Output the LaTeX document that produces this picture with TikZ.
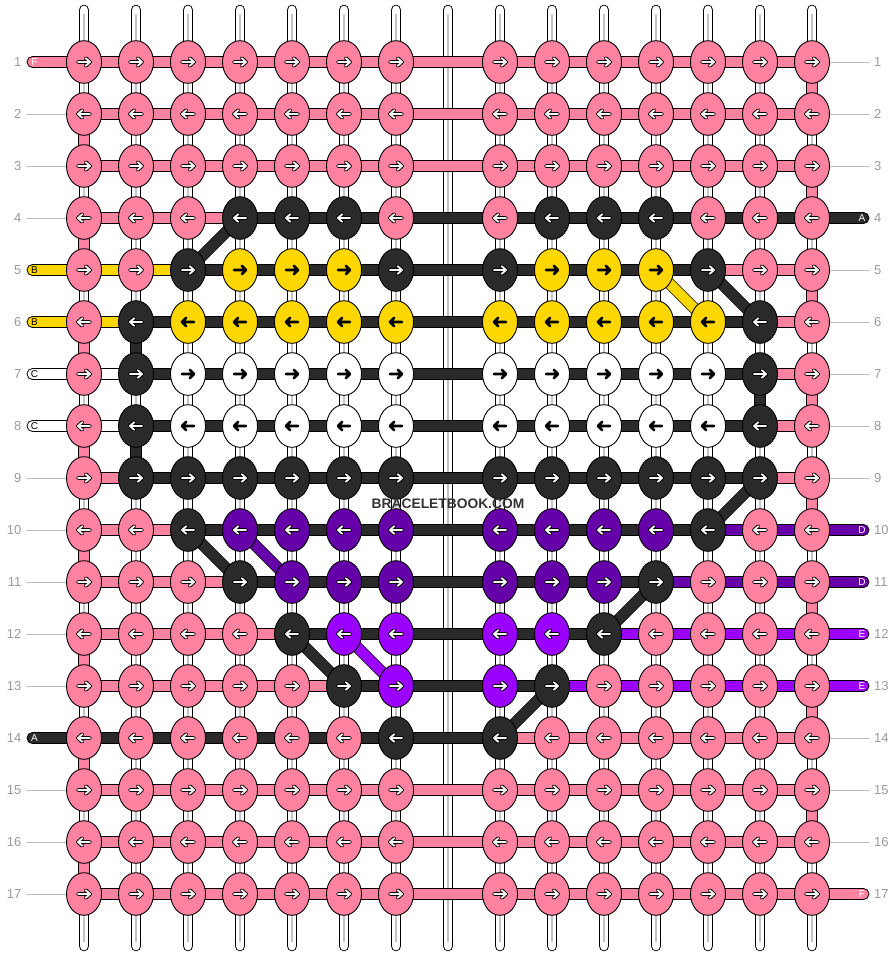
\documentclass[tikz,border=0pt]{standalone}
\usepackage{fontspec}
\setmainfont{Liberation Sans}
\usetikzlibrary{shapes.geometric}
\definecolor{cP}{HTML}{FF82A1}
\definecolor{cK}{HTML}{2A2A2A}
\definecolor{cY}{HTML}{FFD700}
\definecolor{cW}{HTML}{FFFFFF}
\definecolor{cU}{HTML}{6600A8}
\definecolor{cV}{HTML}{9B00FF}
\definecolor{numgrey}{HTML}{9A9A9A}
\definecolor{linegrey}{HTML}{BDBDBD}
\definecolor{strgrey}{HTML}{C4C4C4}
\definecolor{wmgrey}{HTML}{333333}
\pgfdeclarelayer{strings}
\pgfdeclarelayer{bands}
\pgfsetlayers{strings,bands,main}
\def\atP{1}\def\atK{1}\def\atY{0}\def\atW{0}\def\atU{1}\def\atV{1}
\tikzset{
  knot/.style={ellipse, draw=black, line width=0.9, minimum width=35, minimum height=42.6, inner sep=0},
  band/.style={draw=black, line width=0.8},
  arrout/.style={line width=3.8, black, line cap=round, line join=round},
  arrin/.style={line width=1.8, white, line cap=round, line join=round},
  arrdark/.style={line width=2.8, black, line cap=round, line join=round},
  rownum/.style={text=numgrey, font=\fontsize{13}{13}\selectfont, inner sep=0},
  stubtext/.style={font=\fontsize{10}{10}\selectfont, inner sep=0},
  guide/.style={draw=linegrey, line width=0.9},
}
\newcommand\karrow[2]{%
  \ifnum#2=1
    \draw[arrout] ([xshift=\axn]#1.center) -- ([xshift=\ax]#1.center)
      ([xshift=\hx,yshift=3.8]#1.center) -- ([xshift=\ax]#1.center) -- ([xshift=\hx,yshift=-3.8]#1.center);
    \draw[arrin] ([xshift=\axn]#1.center) -- ([xshift=\ax]#1.center)
      ([xshift=\hx,yshift=3.8]#1.center) -- ([xshift=\ax]#1.center) -- ([xshift=\hx,yshift=-3.8]#1.center);
  \else
    \draw[arrdark] ([xshift=\axn]#1.center) -- ([xshift=\ax]#1.center)
      ([xshift=\hx,yshift=4.2]#1.center) -- ([xshift=\ax]#1.center) -- ([xshift=\hx,yshift=-4.2]#1.center);
  \fi}
\newcommand\krow[3]{%
  \pgfmathtruncatemacro\kdir{ifthenelse(mod(#1,2)==1,1,-1)}%
  \pgfmathsetmacro\ax{6*\kdir}%
  \pgfmathsetmacro\axn{-6*\kdir}%
  \pgfmathsetmacro\hx{1.8*\kdir}%
  \foreach \kc [count=\ki] in {#2} {
    \pgfmathsetmacro\kx{84+52*(\ki-1)+52*(\ki>7)}
    \node[knot, fill=c\kc] (k#1-\ki) at (\kx,{62+52*(#1-1)}) {};
    \karrow{k#1-\ki}{\csname at\kc\endcsname}
  }
  \begin{pgfonlayer}{bands}
  \foreach \sc [count=\si] in {#3} {
    \pgfmathtruncatemacro\sj{\si+1}
    \filldraw[band, fill=c\sc] ([yshift=-5.5]k#1-\si.center) rectangle ([yshift=5.5]k#1-\sj.center);
  }
  \end{pgfonlayer}
}
\newcommand\lstub[4]{%
  \coordinate (L#1) at (27,{62+52*(#1-1)});
  \begin{pgfonlayer}{bands}
  \filldraw[band, fill=c#2, rounded corners=5.4] ([yshift=-5.5]L#1) rectangle ([yshift=5.5]k#1-1.center);
  \end{pgfonlayer}
  \node[stubtext, text=#4] (labl#1) at ([xshift=7.5]L#1) {#3};
}
\newcommand\rstub[4]{%
  \coordinate (R#1) at (869,{62+52*(#1-1)});
  \begin{pgfonlayer}{bands}
  \filldraw[band, fill=c#2, rounded corners=5.4] ([yshift=-5.5]k#1-14.center) rectangle ([yshift=5.5]R#1);
  \end{pgfonlayer}
  \node[stubtext, text=#4] (labr#1) at ([xshift=-7]R#1) {#3};
}
\newcommand\vcon[4]{%
  \begin{pgfonlayer}{bands}
  \filldraw[band, fill=c#4] ([xshift=-5.2]k#2-#1.center) rectangle ([xshift=5.2]k#3-#1.center);
  \end{pgfonlayer}}
\newcommand\dcon[3]{%
  \begin{pgfonlayer}{bands}
  \draw[line width=11.6, black] (#1.center) -- (#2.center);
  \draw[line width=10, c#3] (#1.center) -- (#2.center);
  \end{pgfonlayer}}
\begin{document}
\begin{tikzpicture}[x=1pt,y=-1pt]
\useasboundingbox (0,0) rectangle (896,956);
\begin{pgfonlayer}{strings}
\fill[white] (0,0) rectangle (896,956);
\foreach \k in {0,...,14} {
  \coordinate (st\k) at ({84+52*\k},10);
  \coordinate (sb\k) at ({84+52*\k},946);
  \draw[line width=10.6, black, line cap=round] (st\k) -- (sb\k);
  \draw[line width=8.8, white, line cap=round] (st\k) -- (sb\k);
  \draw[line width=1.6, strgrey] ([yshift=-4]st\k) -- ([yshift=4]sb\k);
}
\end{pgfonlayer}

\krow{1}{P,P,P,P,P,P,P,P,P,P,P,P,P,P}{P,P,P,P,P,P,P,P,P,P,P,P,P}
\krow{2}{P,P,P,P,P,P,P,P,P,P,P,P,P,P}{P,P,P,P,P,P,P,P,P,P,P,P,P}
\krow{3}{P,P,P,P,P,P,P,P,P,P,P,P,P,P}{P,P,P,P,P,P,P,P,P,P,P,P,P}
\krow{4}{P,P,P,K,K,K,P,P,K,K,K,P,P,P}{P,P,P,K,K,K,K,K,K,K,K,K,K}
\krow{5}{P,P,K,Y,Y,Y,K,K,Y,Y,Y,K,P,P}{Y,Y,K,K,K,K,K,K,K,K,K,P,P}
\krow{6}{P,K,Y,Y,Y,Y,Y,Y,Y,Y,Y,Y,K,P}{Y,K,K,K,K,K,K,K,K,K,K,K,P}
\krow{7}{P,K,W,W,W,W,W,W,W,W,W,W,K,P}{W,K,K,K,K,K,K,K,K,K,K,K,P}
\krow{8}{P,K,W,W,W,W,W,W,W,W,W,W,K,P}{W,K,K,K,K,K,K,K,K,K,K,K,P}
\krow{9}{P,K,K,K,K,K,K,K,K,K,K,K,K,P}{P,K,K,K,K,K,K,K,K,K,K,K,P}
\krow{10}{P,P,K,U,U,U,U,U,U,U,U,K,P,P}{P,P,K,K,K,K,K,K,K,K,K,U,U}
\krow{11}{P,P,P,K,U,U,U,U,U,U,K,P,P,P}{P,P,P,K,K,K,K,K,K,K,U,U,U}
\krow{12}{P,P,P,P,K,V,V,V,V,K,P,P,P,P}{P,P,P,P,K,K,K,K,K,V,V,V,V}
\krow{13}{P,P,P,P,P,K,V,V,K,P,P,P,P,P}{P,P,P,P,P,K,K,K,V,V,V,V,V}
\krow{14}{P,P,P,P,P,P,K,K,P,P,P,P,P,P}{K,K,K,K,K,K,K,P,P,P,P,P,P}
\krow{15}{P,P,P,P,P,P,P,P,P,P,P,P,P,P}{P,P,P,P,P,P,P,P,P,P,P,P,P}
\krow{16}{P,P,P,P,P,P,P,P,P,P,P,P,P,P}{P,P,P,P,P,P,P,P,P,P,P,P,P}
\krow{17}{P,P,P,P,P,P,P,P,P,P,P,P,P,P}{P,P,P,P,P,P,P,P,P,P,P,P,P}

% edge turns of the background thread
\foreach \a/\b in {2/3,4/5,6/7,8/9,10/11,12/13,14/15,16/17} {\vcon{1}{\a}{\b}{P}}
\foreach \a/\b in {1/2,3/4,5/6,7/8,9/10,11/12,13/14,15/16} {\vcon{14}{\a}{\b}{P}}
\vcon{2}{6}{7}{K}
\vcon{2}{8}{9}{K}
\vcon{13}{7}{8}{K}

% diagonals
\dcon{k4-4}{k5-3}{K}
\dcon{k5-12}{k6-13}{K}
\dcon{k5-11}{k6-12}{Y}
\dcon{k9-13}{k10-12}{K}
\dcon{k10-3}{k11-4}{K}
\dcon{k10-4}{k11-5}{U}
\dcon{k11-11}{k12-10}{K}
\dcon{k12-5}{k13-6}{K}
\dcon{k12-6}{k13-7}{V}
\dcon{k13-9}{k14-8}{K}

% stubs
\lstub{1}{P}{F}{white}
\lstub{5}{Y}{B}{black}
\lstub{6}{Y}{B}{black}
\lstub{7}{W}{C}{black}
\lstub{8}{W}{C}{black}
\lstub{14}{K}{A}{white}
\rstub{4}{K}{A}{white}
\rstub{10}{U}{D}{white}
\rstub{11}{U}{D}{white}
\rstub{12}{V}{E}{white}
\rstub{13}{V}{E}{white}
\rstub{17}{P}{F}{white}

% guide lines
\foreach \r in {2,3,4,9,10,11,12,13,15,16,17} {
  \coordinate (gl\r) at (26,{62+52*(\r-1)});
  \draw[guide] (gl\r) -- (k\r-1.west);
}
\foreach \r in {1,2,3,5,6,7,8,9,14,15,16} {
  \coordinate (gr\r) at (870,{62+52*(\r-1)});
  \draw[guide] (k\r-14.east) -- (gr\r);
}

% row numbers
\foreach \r in {1,...,17} {
  \node[rownum, anchor=east] (nl\r) at (21.5,{62+52*(\r-1)}) {\r};
  \node[rownum, anchor=west] (nr\r) at (874,{62+52*(\r-1)}) {\r};
}

\node[font=\bfseries\fontsize{13.8}{14}\selectfont, text=wmgrey, inner sep=0] (wm) at (448,503.5) {BRACELETBOOK.COM};
\end{tikzpicture}
\end{document}
